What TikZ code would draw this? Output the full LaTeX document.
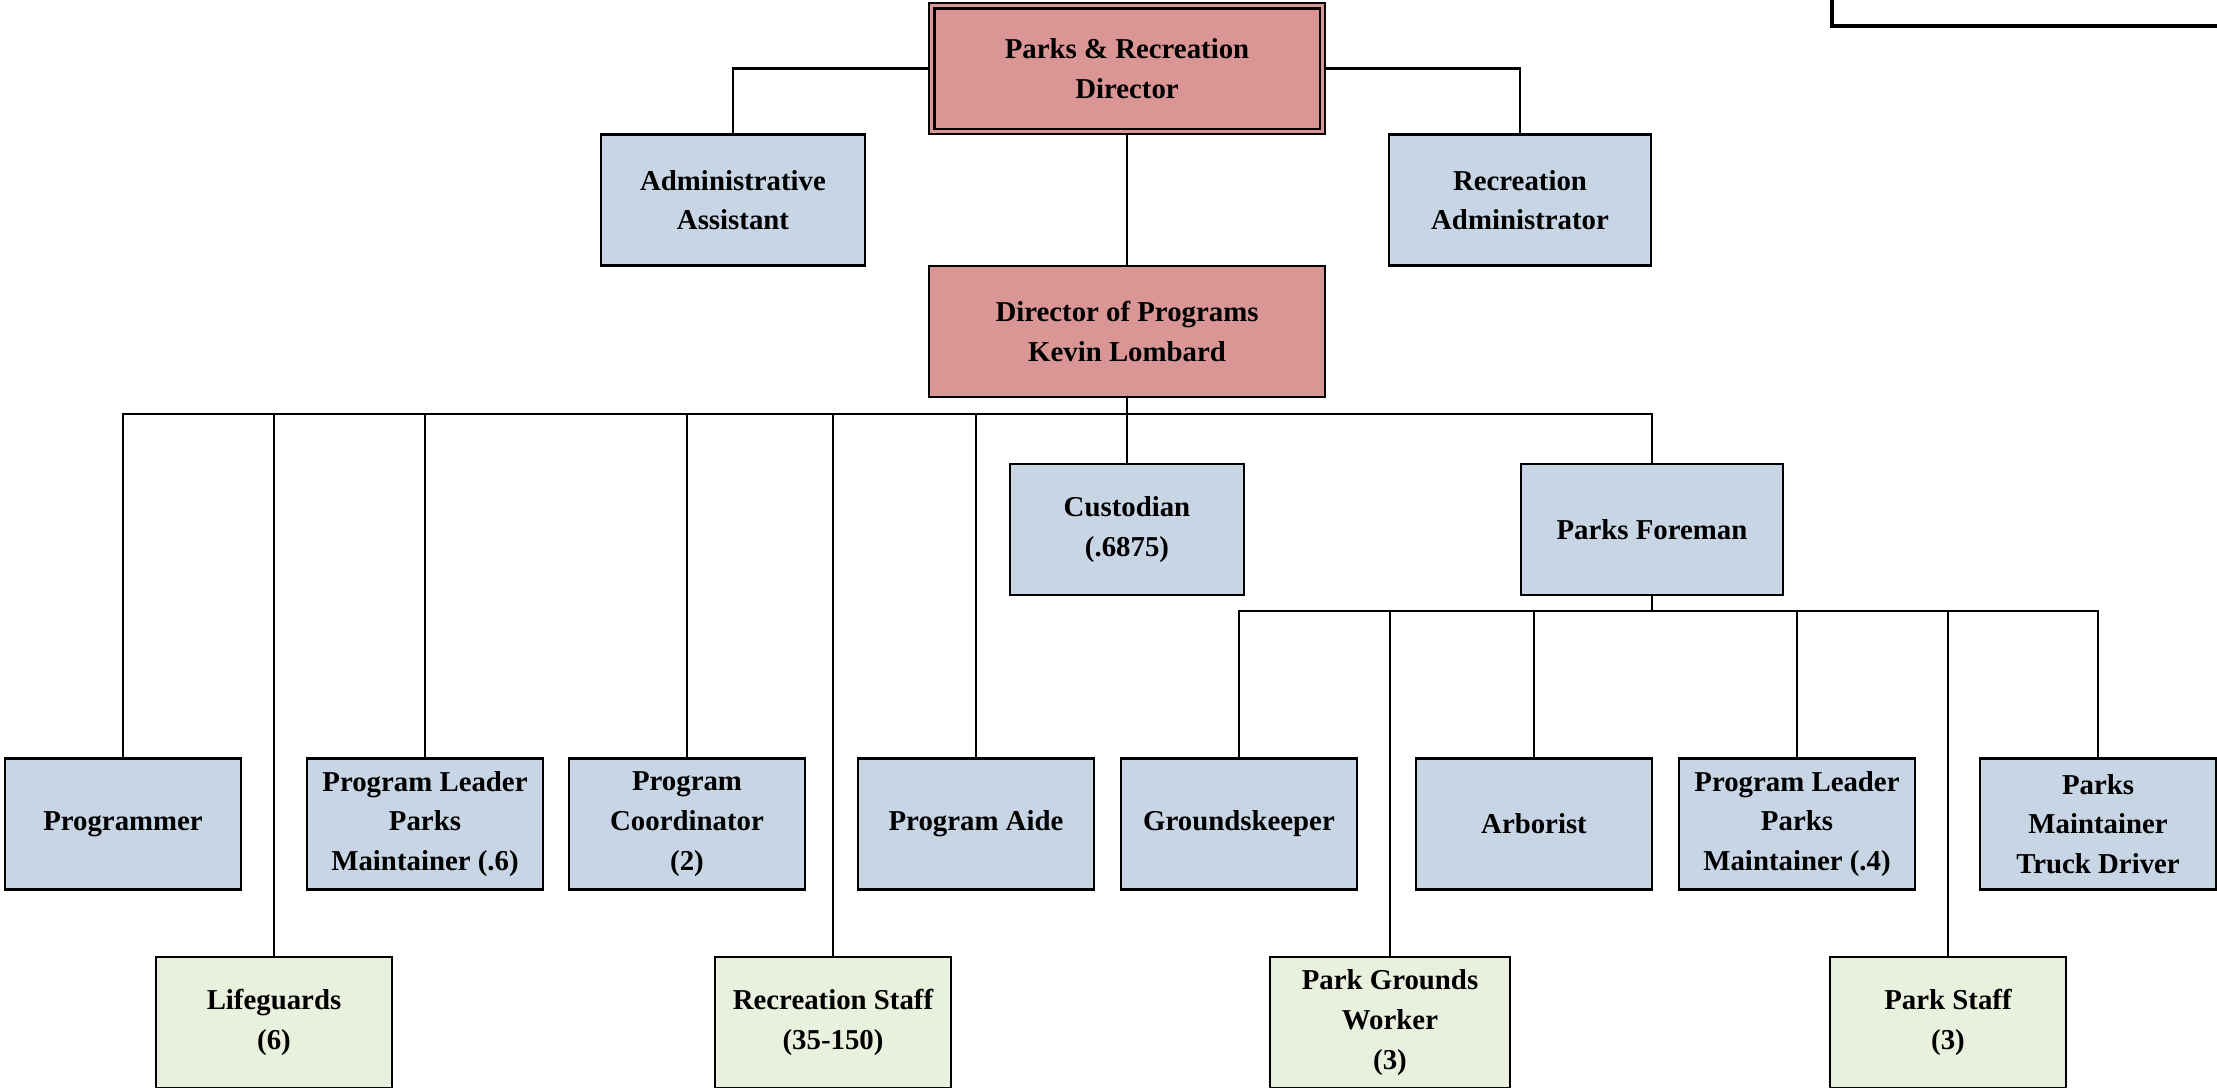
\documentclass[tikz,border=0pt]{standalone}
\usepackage{fontspec}
\setmainfont{Liberation Serif}
\usepackage{xcolor}
\usetikzlibrary{calc,positioning}

\definecolor{dirred}{HTML}{D99694}
\definecolor{staffblue}{HTML}{C8D5E4}
\definecolor{partgreen}{HTML}{EAF0DE}

\begin{document}
\begin{tikzpicture}[
        post/.style={draw, line width=0.8pt, minimum width=2.36cm, minimum height=1.31cm, inner sep=1pt, align=center, font=\fontsize{8.2}{11.3}\selectfont\bfseries},
        director/.style={post, fill=dirred, minimum width=3.96cm},
        staff/.style={post, fill=staffblue},
        parttime/.style={post, fill=partgreen},
        link/.style={line width=0.6pt}
    ]
        \useasboundingbox (0,0) rectangle (22.17,-10.87);

        \node[director] (prdir) at (11.27,-0.685) {Parks \& Recreation\\Director};
        \draw[line width=0.8pt] ([shift={(0.065,-0.065)}]prdir.north west) rectangle ([shift={(-0.065,0.065)}]prdir.south east);
        \node[staff, minimum width=2.64cm] (admin) at (7.33,-2.00) {Administrative\\Assistant};
        \node[staff, minimum width=2.62cm] (recadmin) at (15.20,-2.00) {Recreation\\Administrator};
        \node[director] (progdir) at (11.27,-3.315) {Director of Programs\\Kevin Lombard};

        \node[staff, minimum width=2.34cm] (custodian) at (11.27,-5.295) {Custodian\\(.6875)};
        \node[staff, minimum width=2.62cm] (foreman) at (16.52,-5.295) {Parks Foreman};

        \node[staff] (programmer) at (1.23,-8.24) {Programmer};
        \node[staff] (leadsix) at (4.25,-8.24) {Program Leader\\Parks\\Maintainer (.6)};
        \node[staff] (coordinator) at (6.87,-8.24) {Program\\Coordinator\\(2)};
        \node[staff] (aide) at (9.76,-8.24) {Program Aide};
        \node[staff] (groundskeeper) at (12.39,-8.24) {Groundskeeper};
        \node[staff] (arborist) at (15.34,-8.24) {Arborist};
        \node[staff] (leadfour) at (17.97,-8.24) {Program Leader\\Parks\\Maintainer (.4)};
        \node[staff] (truckdriver) at (20.98,-8.24) {Parks\\Maintainer\\Truck Driver};

        \node[parttime] (lifeguards) at (2.74,-10.225) {Lifeguards\\(6)};
        \node[parttime] (recstaff) at (8.33,-10.225) {Recreation Staff\\(35-150)};
        \node[parttime, minimum width=2.40cm] (groundsworker) at (13.90,-10.225) {Park Grounds\\Worker\\(3)};
        \node[parttime] (parkstaff) at (19.48,-10.225) {Park Staff\\(3)};

        \draw[line width=1.2pt] (18.32,0.3) |- (22.5,-0.26);

        \draw[link] (prdir.west) -| (admin.north);
        \draw[link] (prdir.east) -| (recadmin.north);
        \draw[link] (prdir.south) -- (progdir.north);

        \coordinate (pbus) at (11.27,-4.14);
        \draw[link] (progdir.south) -- (pbus);
        \foreach \n in {programmer,lifeguards,leadsix,coordinator,recstaff,aide,custodian,foreman}
            \draw[link] (pbus) -| (\n.north);

        \coordinate (fbus) at (16.52,-6.11);
        \draw[link] (foreman.south) -- (fbus);
        \foreach \n in {groundskeeper,groundsworker,arborist,leadfour,parkstaff,truckdriver}
            \draw[link] (fbus) -| (\n.north);
    \end{tikzpicture}
\end{document}
